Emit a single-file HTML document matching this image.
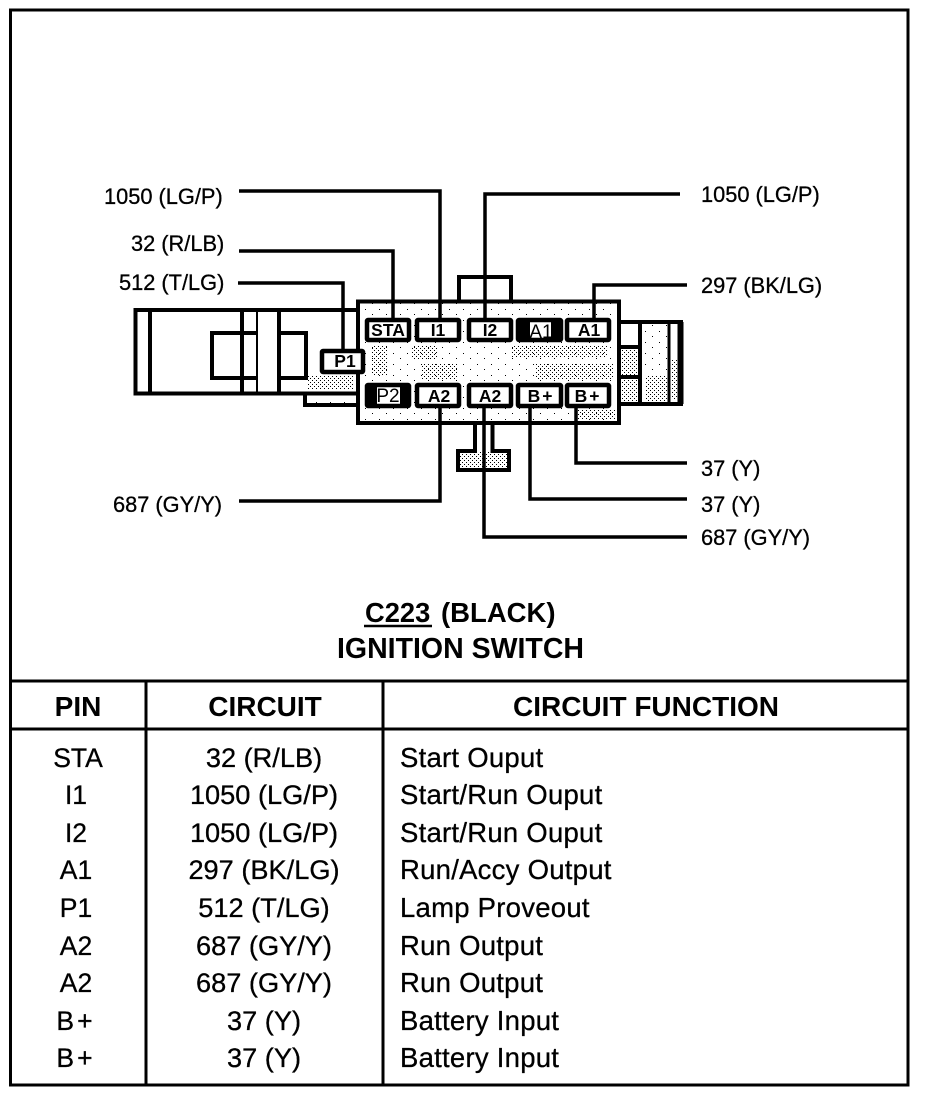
<!DOCTYPE html>
<html><head><meta charset="utf-8"><style>
html,body{margin:0;padding:0;background:#fff}
svg{display:block}
text{font-family:"Liberation Sans",sans-serif;fill:#000;stroke:#000;stroke-width:.3}
.l{font-size:21.8px}
.t{font-size:27.5px;letter-spacing:.25px}
.c{font-size:27.2px}
.a{font-size:26.5px}
.h{font-size:28px;font-weight:bold;stroke:none}
.p{font-size:17.5px;font-weight:bold;text-anchor:middle;stroke:none}
.q{font-size:19px;text-anchor:middle;stroke:none}
.m{text-anchor:middle}
</style></head><body>
<svg width="928" height="1094" viewBox="0 0 928 1094" xmlns="http://www.w3.org/2000/svg">
<defs>
<pattern id="d" width="4" height="4" patternUnits="userSpaceOnUse"><rect x="0" y="0" width="1" height="1" fill="#000"/><rect x="2" y="2" width="1" height="1" fill="#000"/></pattern>
<pattern id="s" width="14" height="11" patternUnits="userSpaceOnUse"><rect x="1" y="1" width="1" height="1" fill="#000"/><rect x="8" y="6" width="1" height="1" fill="#000"/></pattern>
</defs>
<rect width="928" height="1094" fill="#fff"/>
<g fill="none" stroke="#000">
<rect x="10.5" y="10" width="897.500" height="1075" stroke-width="3"/>
<path d="M10 681H908M10 729H908" stroke-width="3"/>
<path d="M146 681V1085M383 681V1085" stroke-width="3"/>
</g>
<!-- shading -->
<rect x="358" y="301" width="261" height="122" fill="url(#s)"/>
<rect x="412" y="345" width="26" height="14" fill="url(#d)"/>
<rect x="512" y="345" width="95" height="12" fill="url(#d)"/>
<rect x="422" y="363" width="36" height="16" fill="url(#d)"/>
<rect x="535" y="364" width="78" height="16" fill="url(#d)"/>
<rect x="576" y="410" width="40" height="10" fill="url(#d)"/>
<rect x="372" y="345" width="16" height="30" fill="url(#d)"/>
<rect x="308" y="375" width="46" height="15" fill="url(#d)"/>
<rect x="308" y="398" width="50" height="5" fill="url(#s)"/>
<rect x="622" y="350" width="16" height="52" fill="url(#d)"/>
<rect x="645" y="375" width="23" height="27" fill="url(#d)"/>
<rect x="645" y="325" width="23" height="50" fill="url(#s)"/>
<rect x="672" y="360" width="5" height="40" fill="url(#d)"/>
<rect x="459" y="452" width="49" height="18" fill="url(#d)"/>
<!-- housing -->
<g fill="none" stroke="#000" stroke-width="4">
<path d="M358 310H135.500V393.500H358"/>
<path d="M150 310V393M242 310V393M279 310V393"/>
<path d="M257 333H212V378H257M279 333H306V378H279"/>
<path d="M358 423V301.500H619V423Z"/>
<path d="M459 301V277H511V301"/>
<path d="M475 423V451H458V470H509V451H492.500V423"/>
<path d="M305 394V405H358"/>
<path d="M620 322H681V404H620M640 322V404M620 347H640M620 377H640"/>
<path d="M680.500 322V404" stroke-width="6"/>
</g>
<path d="M257 310V393" stroke="#000" stroke-width="2"/>
<path d="M669 322V404" stroke="#000" stroke-width="3"/>
<!-- wires -->
<g fill="none" stroke="#000" stroke-width="3.500">
<path d="M239 191H440V318"/>
<path d="M239 251H393V318"/>
<path d="M238 283H343V350"/>
<path d="M680 194H485V318"/>
<path d="M687 285H594V318"/>
<path d="M687 463H576V408"/>
<path d="M687 499H530V408"/>
<path d="M687 537H484V408"/>
<path d="M239 501H440V408"/>
</g>
<!-- pins -->
<g fill="#fff" stroke="#000" stroke-width="4.500">
<rect x="367" y="320" width="42" height="20" rx="1"/>
<rect x="417" y="320" width="42" height="20" rx="1"/>
<rect x="469" y="320" width="42" height="20" rx="1"/>
<rect x="518" y="320" width="43" height="20" rx="1"/>
<rect x="567" y="320" width="42" height="20" rx="1"/>
<rect x="322" y="351" width="41" height="21" rx="1"/>
<rect x="367" y="385" width="42" height="21" rx="1"/>
<rect x="417" y="385" width="42" height="21" rx="1"/>
<rect x="469" y="385" width="42" height="21" rx="1"/>
<rect x="518" y="385" width="43" height="21" rx="1"/>
<rect x="567" y="385" width="42" height="21" rx="1"/>
</g>
<rect x="518" y="320" width="12" height="20" fill="#000"/>
<rect x="551" y="320" width="10" height="20" fill="#000"/>
<rect x="367" y="385" width="10" height="21" fill="#000"/>
<rect x="400" y="385" width="9" height="21" fill="#000"/>
<text class="p" x="388" y="336">STA</text>
<text class="p" x="438" y="336">I1</text>
<text class="p" x="490" y="336">I2</text>
<text class="q" x="541" y="338">A1</text>
<text class="p" x="589" y="336">A1</text>
<text class="p" x="345" y="367">P1</text>
<text class="q" x="388" y="402">P2</text>
<text class="p" x="439" y="402">A2</text>
<text class="p" x="490" y="402">A2</text>
<text class="p" x="541" y="402" letter-spacing="2">B+</text>
<text class="p" x="588" y="402" letter-spacing="2">B+</text>
<!-- labels -->
<text class="l" x="104" y="204">1050 (LG/P)</text>
<text class="l" x="131" y="251">32 (R/LB)</text>
<text class="l" x="119" y="290">512 (T/LG)</text>
<text class="l" x="113" y="512">687 (GY/Y)</text>
<text class="l" x="701" y="202">1050 (LG/P)</text>
<text class="l" x="701" y="293">297 (BK/LG)</text>
<text class="l" x="701" y="476">37 (Y)</text>
<text class="l" x="701" y="512">37 (Y)</text>
<text class="l" x="701" y="545">687 (GY/Y)</text>
<text class="h" x="365" y="622" style="font-size:27.300px">C223</text>
<path d="M364 626H432" stroke="#000" stroke-width="2.500"/>
<text class="h" x="441" y="622" style="font-size:27.500px">(BLACK)</text>
<text class="h" x="337" y="658" style="font-size:28.500px">IGNITION SWITCH</text>
<text class="h m" x="78" y="716">PIN</text>
<text class="h m" x="265" y="716">CIRCUIT</text>
<text class="h m" x="646" y="716">CIRCUIT FUNCTION</text>
<text class="a m" x="78" y="767">STA</text><text class="c m" x="264" y="767">32 (R/LB)</text><text class="t" x="400" y="767">Start Ouput</text>
<text class="a m" x="76" y="804">I1</text><text class="c m" x="264" y="804">1050 (LG/P)</text><text class="t" x="400" y="804">Start/Run Ouput</text>
<text class="a m" x="76" y="842">I2</text><text class="c m" x="264" y="842">1050 (LG/P)</text><text class="t" x="400" y="842">Start/Run Ouput</text>
<text class="a m" x="76" y="879">A1</text><text class="c m" x="264" y="879">297 (BK/LG)</text><text class="t" x="400" y="879">Run/Accy Output</text>
<text class="a m" x="76" y="917">P1</text><text class="c m" x="264" y="917">512 (T/LG)</text><text class="t" x="400" y="917">Lamp Proveout</text>
<text class="a m" x="76" y="955">A2</text><text class="c m" x="264" y="955">687 (GY/Y)</text><text class="t" x="400" y="955">Run Output</text>
<text class="a m" x="76" y="992">A2</text><text class="c m" x="264" y="992">687 (GY/Y)</text><text class="t" x="400" y="992">Run Output</text>
<text class="a m" x="76" y="1030" letter-spacing="3">B+</text><text class="c m" x="264" y="1030">37 (Y)</text><text class="t" x="400" y="1030">Battery Input</text>
<text class="a m" x="76" y="1067" letter-spacing="3">B+</text><text class="c m" x="264" y="1067">37 (Y)</text><text class="t" x="400" y="1067">Battery Input</text>
</svg>
</body></html>
